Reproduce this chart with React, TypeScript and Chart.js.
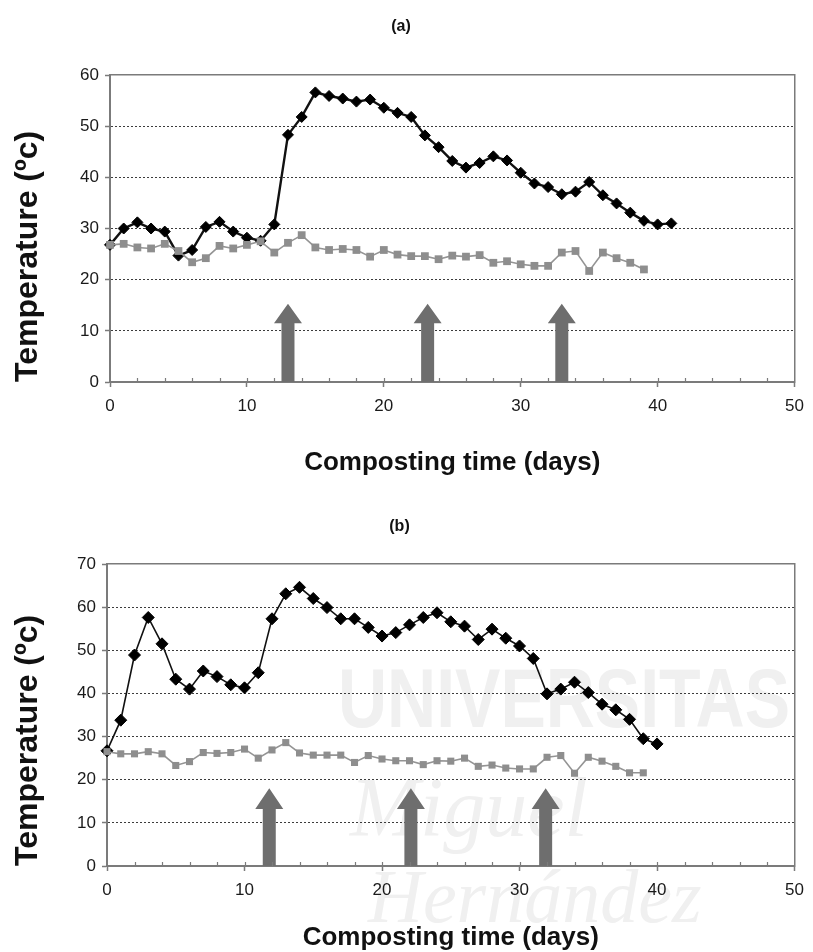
import React, { useEffect, useRef } from "react";
import { Chart, registerables } from "chart.js";

Chart.register(...registerables);

const FONT = "'Liberation Sans', Arial, Helvetica, sans-serif";
const SERIF = "'Liberation Serif', 'DejaVu Serif', serif";

// ---------------- DATA ----------------
// Panel (a)
const daysBlackA = [0,1,2,3,4,5,6,7,8,9,10,11,12,13,14,15,16,17,18,19,20,21,22,23,24,25,26,27,28,29,30,31,32,33,34,35,36,37,38,39,40,41];
const tempBlackA = [26.8,30.0,31.2,30.0,29.4,24.7,25.8,30.3,31.3,29.4,28.2,27.6,30.8,48.3,51.8,56.6,55.9,55.4,54.8,55.2,53.6,52.6,51.8,48.2,45.9,43.2,41.9,42.8,44.1,43.3,40.9,38.8,38.1,36.7,37.2,39.1,36.5,34.9,33.1,31.5,30.8,31.0];
const daysGrayA = [0,1,2,3,4,5,6,7,8,9,10,11,12,13,14,15,16,17,18,19,20,21,22,23,24,25,26,27,28,29,30,31,32,33,34,35,36,37,38,39];
const tempGrayA = [26.8,27.0,26.3,26.1,27.0,25.6,23.4,24.2,26.6,26.1,26.8,27.5,25.3,27.2,28.7,26.3,25.8,26.0,25.8,24.5,25.8,24.9,24.6,24.6,24.0,24.7,24.5,24.8,23.3,23.6,23.0,22.7,22.7,25.3,25.6,21.7,25.3,24.2,23.3,22.0];
const arrowDaysA = [13.0, 23.2, 33.0];
const arrowTipA = 15.3;
const arrowHeadBaseA = 11.5;

// Panel (b)
const daysBlackB = [0,1,2,3,4,5,6,7,8,9,10,11,12,13,14,15,16,17,18,19,20,21,22,23,24,25,26,27,28,29,30,31,32,33,34,35,36,37,38,39,40];
const tempBlackB = [26.7,33.8,48.9,57.6,51.5,43.3,41.0,45.2,43.9,42.0,41.3,44.8,57.3,63.1,64.6,62.0,59.9,57.3,57.3,55.3,53.3,54.1,55.9,57.6,58.7,56.6,55.6,52.5,54.9,52.8,51.0,48.1,39.9,41.0,42.6,40.2,37.5,36.2,34.0,29.5,28.3];
const daysGrayB = [0,1,2,3,4,5,6,7,8,9,10,11,12,13,14,15,16,17,18,19,20,21,22,23,24,25,26,27,28,29,30,31,32,33,34,35,36,37,38,39];
const tempGrayB = [26.5,26.0,26.0,26.5,26.0,23.3,24.2,26.3,26.1,26.3,27.1,25.0,26.9,28.6,26.2,25.7,25.7,25.7,24.0,25.6,24.8,24.4,24.4,23.5,24.4,24.3,25.0,23.1,23.4,22.7,22.5,22.5,25.2,25.6,21.5,25.2,24.3,23.1,21.6,21.6];
const arrowDaysB = [11.8, 22.1, 31.9];
const arrowTipB = 18.0;
const arrowHeadBaseB = 13.2;

const xTickValues = [0, 10, 20, 30, 40, 50];
const yTickStep = 10;
const yMaxA = 60;
const yMaxB = 70;
const xMax = 50;
const minorTickStep = 2;

const panelTitleA = "(a)";
const panelTitleB = "(b)";
const xTitle = "Composting time (days)";
const yTitle = "Temperature (ºc)";

const watermarkWords = ["UNIVERSITAS", "Miguel", "Hernández"];

// ---------------- PLUGINS ----------------
const arrowPlugin = {
  id: "arrows",
  beforeDatasetsDraw(chart: any, _args: any, opts: any) {
    const { ctx } = chart;
    const xs = chart.scales.x;
    const ys = chart.scales.y;
    if (!opts || !opts.days) return;
    ctx.save();
    ctx.fillStyle = opts.color;
    const y0 = ys.getPixelForValue(0);
    const yTip = ys.getPixelForValue(opts.tip);
    const yBase = ys.getPixelForValue(opts.headBase);
    for (const d of opts.days) {
      const cx = xs.getPixelForValue(d);
      const sw = opts.shaftWidth / 2;
      const hw = opts.headWidth / 2;
      ctx.beginPath();
      ctx.moveTo(cx - sw, y0);
      ctx.lineTo(cx - sw, yBase);
      ctx.lineTo(cx - hw, yBase);
      ctx.lineTo(cx, yTip);
      ctx.lineTo(cx + hw, yBase);
      ctx.lineTo(cx + sw, yBase);
      ctx.lineTo(cx + sw, y0);
      ctx.closePath();
      ctx.fill();
    }
    ctx.restore();
  },
};

const minorTickPlugin = {
  id: "minorTicks",
  afterDraw(chart: any, _args: any, opts: any) {
    const { ctx } = chart;
    const xs = chart.scales.x;
    const bottom = chart.chartArea.bottom;
    ctx.save();
    ctx.strokeStyle = opts.color || "#777";
    ctx.lineWidth = 1.2;
    for (let d = minorTickStep; d < xMax; d += minorTickStep) {
      const px = Math.round(xs.getPixelForValue(d)) + 0.5;
      ctx.beginPath();
      ctx.moveTo(px, bottom);
      ctx.lineTo(px, bottom - 4);
      ctx.stroke();
    }
    ctx.restore();
  },
};

const watermarkPlugin = {
  id: "watermark",
  beforeDraw(chart: any, _args: any, opts: any) {
    if (!opts || !opts.show) return;
    const { ctx } = chart;
    ctx.save();
    ctx.textBaseline = "alphabetic";
    ctx.textAlign = "left";
    ctx.fillStyle = "#f0f0f0";
    ctx.font = `bold 84px ${FONT}`;
    ctx.fillText(watermarkWords[0], 338, 251, 452);
    ctx.fillStyle = "#f0f0f0";
    ctx.font = `italic 84px ${SERIF}`;
    ctx.fillText(watermarkWords[1], 350, 360, 240);
    ctx.font = `italic 76px ${SERIF}`;
    ctx.fillText(watermarkWords[2], 368, 446, 380);
    ctx.restore();
  },
};

// ---------------- PANEL ----------------
type PanelProps = {
  top: number;
  height: number;
  title: string;
  titlePadTop: number;
  titlePadBottom: number;
  yMax: number;
  yAxisWidth: number;
  xAxisHeight: number;
  rightPad: number;
  xTitlePadBottom: number;
  daysBlack: number[];
  tempBlack: number[];
  daysGray: number[];
  tempGray: number[];
  arrowDays: number[];
  arrowTip: number;
  arrowHeadBase: number;
  blackWidth: number;
  blackRadius: number;
  grayRadius: number;
  watermark: boolean;
};

function Panel(p: PanelProps) {
  const ref = useRef<HTMLCanvasElement | null>(null);
  useEffect(() => {
    if (!ref.current) return;
    const axisColor = "#7b7b7b";
    const gridColor = "#3c3c3c";
    const tickFont = { family: FONT, size: 17 };
    const xTitleFont = { family: FONT, size: 26, weight: "bold" as const, lineHeight: 1 };
    const yTitleFont = { family: FONT, size: 32, weight: "bold" as const, lineHeight: 1 };
    const yMax = p.yMax;
    const chart = new Chart(ref.current, {
      type: "line",
      data: {
        datasets: [
          {
            label: "gray",
            data: p.daysGray.map((d, i) => ({ x: d, y: p.tempGray[i] })),
            borderColor: "#949494",
            backgroundColor: "#8e8e8e",
            borderWidth: 1.6,
            pointStyle: "rect",
            pointRadius: p.grayRadius,
            pointBorderWidth: 0,
            pointBackgroundColor: "#8e8e8e",
            tension: 0,
            clip: false,
          },
          {
            label: "black",
            data: p.daysBlack.map((d, i) => ({ x: d, y: p.tempBlack[i] })),
            borderColor: "#111111",
            backgroundColor: "#000000",
            borderWidth: p.blackWidth,
            pointStyle: "rectRot",
            pointRadius: p.blackRadius,
            pointBorderWidth: 1,
            pointBorderColor: "#000000",
            pointBackgroundColor: "#000000",
            tension: 0,
            clip: false,
          },
        ],
      },
      options: {
        animation: false,
        responsive: false,
        maintainAspectRatio: false,
        devicePixelRatio: 1,
        layout: { padding: { left: 0, right: p.rightPad, top: 0, bottom: 0 } },
        plugins: {
          legend: { display: false },
          tooltip: { enabled: false },
          title: {
            display: true,
            text: p.title,
            color: "#111",
            font: { family: FONT, size: 16, weight: "bold" },
            padding: { top: p.titlePadTop, bottom: p.titlePadBottom },
          },
          arrows: {
            days: p.arrowDays,
            tip: p.arrowTip,
            headBase: p.arrowHeadBase,
            color: "#6e6e6e",
            shaftWidth: 13,
            headWidth: 28,
          },
          minorTicks: { color: axisColor },
          watermark: { show: p.watermark },
        } as any,
        scales: {
          x: {
            type: "linear",
            position: "bottom",
            min: 0,
            max: xMax,
            afterBuildTicks: (s: any) => {
              s.ticks = xTickValues.map((v) => ({ value: v }));
            },
            ticks: { color: "#1a1a1a", font: tickFont, padding: 9, maxRotation: 0, autoSkip: false },
            grid: { drawOnChartArea: false, drawTicks: true, tickLength: 5, tickColor: axisColor, tickWidth: 1.5 },
            border: { display: true, color: axisColor, width: 2 },
            title: { display: true, text: xTitle, color: "#111", font: xTitleFont, padding: { top: 0, bottom: p.xTitlePadBottom } },
            afterFit: (s: any) => {
              s.height = p.xAxisHeight;
            },
          },
          y: {
            type: "linear",
            position: "left",
            min: 0,
            max: yMax,
            ticks: { stepSize: yTickStep, color: "#1a1a1a", font: tickFont, padding: 6 },
            grid: {
              color: (c: any) =>
                c.tick && (c.tick.value === 0 || c.tick.value === yMax) ? "rgba(0,0,0,0)" : gridColor,
              lineWidth: 1,
              drawTicks: true,
              tickLength: 5,
              tickColor: axisColor,
              tickWidth: 1.5,
            },
            border: { display: true, color: axisColor, width: 2, dash: [2, 2] },
            title: { display: true, text: yTitle, color: "#111", font: yTitleFont, align: "start", padding: { top: 11.8, bottom: 0 } },
            afterFit: (s: any) => {
              s.width = p.yAxisWidth;
            },
          },
          xTop: {
            type: "linear",
            axis: "x",
            position: "top",
            min: 0,
            max: xMax,
            ticks: { display: false },
            grid: { display: false, drawTicks: false },
            border: { display: true, color: axisColor, width: 1.5 },
            afterFit: (s: any) => {
              s.height = 0;
            },
          },
          yRight: {
            type: "linear",
            axis: "y",
            position: "right",
            min: 0,
            max: yMax,
            ticks: { display: false },
            grid: { display: false, drawTicks: false },
            border: { display: true, color: axisColor, width: 1.5 },
            afterFit: (s: any) => {
              s.width = 0;
            },
          },
        } as any,
      },
      plugins: [watermarkPlugin, arrowPlugin, minorTickPlugin],
    });
    return () => chart.destroy();
  }, []);
  return (
    <canvas
      ref={ref}
      width={813}
      height={p.height}
      style={{ position: "absolute", left: 0, top: p.top, width: 813, height: p.height, display: "block" }}
    />
  );
}

export default function App() {
  return (
    <div style={{ position: "absolute", left: 0, top: 0, width: 813, height: 952, background: "#ffffff", overflow: "hidden" }}>
      <Panel
        top={0}
        height={476}
        title={panelTitleA}
        titlePadTop={17.4}
        titlePadBottom={38.4}
        yMax={yMaxA}
        yAxisWidth={110}
        xAxisHeight={94}
        rightPad={11}
        xTitlePadBottom={0}
        daysBlack={daysBlackA}
        tempBlack={tempBlackA}
        daysGray={daysGrayA}
        tempGray={tempGrayA}
        arrowDays={arrowDaysA}
        arrowTip={arrowTipA}
        arrowHeadBase={arrowHeadBaseA}
        blackWidth={2.4}
        blackRadius={5.5}
        grayRadius={5.5}
        watermark={false}
      />
      <Panel
        top={476}
        height={476}
        title={panelTitleB}
        titlePadTop={41.4}
        titlePadBottom={27.4}
        yMax={yMaxB}
        yAxisWidth={107}
        xAxisHeight={86}
        rightPad={14}
        xTitlePadBottom={1}
        daysBlack={daysBlackB}
        tempBlack={tempBlackB}
        daysGray={daysGrayB}
        tempGray={tempGrayB}
        arrowDays={arrowDaysB}
        arrowTip={arrowTipB}
        arrowHeadBase={arrowHeadBaseB}
        blackWidth={1.6}
        blackRadius={6}
        grayRadius={5}
        watermark={true}
      />
    </div>
  );
}
